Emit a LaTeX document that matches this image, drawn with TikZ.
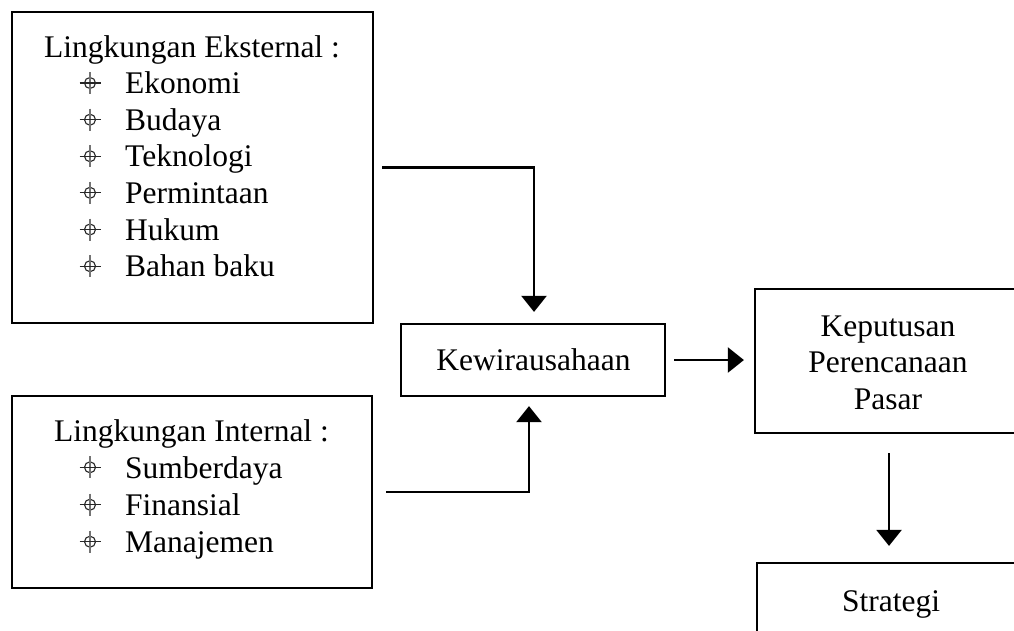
\documentclass[tikz,border=0pt]{standalone}
\usepackage{fontspec}
\setmainfont{Liberation Serif}
\usetikzlibrary{arrows.meta}
\begin{document}
\begin{tikzpicture}[x=1pt,y=-1pt,
  box/.style={draw, line width=2.2pt, rectangle, inner sep=0pt},
  txt/.style={anchor=base, inner sep=0pt, font=\fontsize{31.5}{36}\selectfont},
  itm/.style={anchor=base west, inner sep=0pt, font=\fontsize{31.5}{36}\selectfont},
  arr/.style={line width=2.2pt, -{Triangle[width=25pt,length=16pt]}},
  crs/.pic={
    \draw[line width=1.1pt, black!85] (0,0) circle [radius=5.5pt];
    \draw[line width=1.1pt, black!55] (0,-11) -- (0,11);
    \draw[line width=1.1pt, black!85] (-10.5,0) -- (10.5,0);
  }]
\clip (0,0) rectangle (1014,630);
\fill[white] (0,0) rectangle (1014,630);

% boxes
\node[box, minimum width=361pt, minimum height=311pt] (ext) at (192.5,167.5) {};
\node[box, minimum width=360pt, minimum height=192pt] (int) at (192,492) {};
\node[box, minimum width=264pt, minimum height=72pt] (kew) at (533,360) {};
\node[box, minimum width=270pt, minimum height=144pt] (kep) at (890,361) {};
\node[box, minimum width=268pt, minimum height=136pt] (str) at (891,631) {};

% external text
\node[txt] (extT) at (192,57) {Lingkungan Eksternal :};
\node[itm] (e1) at (125,93.5) {Ekonomi};
\node[itm] (e2) at (125,130.2) {Budaya};
\node[itm] (e3) at (125,166.7) {Teknologi};
\node[itm] (e4) at (125,203.3) {Permintaan};
\node[itm] (e5) at (125,240) {Hukum};
\node[itm] (e6) at (125,276.7) {Bahan baku};
\foreach \y in {93.5,130.2,166.7,203.3,240,276.7} \pic at (90,\y-10.5) {crs};

% internal text
\node[txt] (intT) at (191.5,441.7) {Lingkungan Internal :};
\node[itm] (i1) at (125,478.3) {Sumberdaya};
\node[itm] (i2) at (125,515.7) {Finansial};
\node[itm] (i3) at (125,552.7) {Manajemen};
\foreach \y in {478.3,515.7,552.7} \pic at (90,\y-11) {crs};

% other texts
\node[txt] (kewT) at (533.5,370) {Kewirausahaan};
\node[txt] (kep1) at (888,336) {Keputusan};
\node[txt] (kep2) at (888,372.7) {Perencanaan};
\node[txt] (kep3) at (888,409) {Pasar};
\node[txt] (strT) at (891,611.7) {Strategi};

% connectors
\draw[arr, shorten <=8pt, shorten >=11pt] (ext.east) -| ([xshift=1pt]kew.north);
\draw[arr, shorten <=13pt, shorten >=9pt] (int.east) -| ([xshift=-4pt]kew.south);
\draw[arr, shorten <=8pt, shorten >=10pt] (kew.east) -- (kew.east -| kep.west);
\draw[arr, shorten <=19pt, shorten >=16pt] ([xshift=-1pt]kep.south) -- ([xshift=-1pt]kep.south |- str.north);
\end{tikzpicture}
\end{document}
